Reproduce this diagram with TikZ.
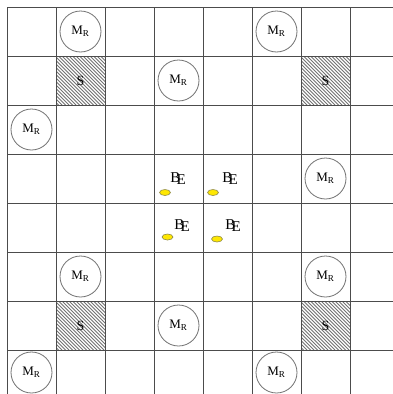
\documentclass[tikz,border=0pt]{standalone}
\usepackage{fontspec}
\setmainfont{Liberation Serif}
\usetikzlibrary{shapes.geometric}
\begin{document}
\begin{tikzpicture}[x=1pt,y=-1pt,
  gridline/.style={draw=black!70, line width=0.9pt},
  hatchline/.style={draw=black!55, line width=1pt},
  robot/.style={circle, draw=black!55, line width=0.8pt, minimum size=41pt, inner sep=0pt, font=\fontsize{13}{13}\selectfont},
  shelf/.style={rectangle, minimum size=49pt, inner sep=0pt, font=\fontsize{14}{14}\selectfont},
  btxt/.style={inner sep=0pt, font=\fontsize{15}{15}\selectfont},
  ydot/.style={ellipse, fill=yellow!90!orange, draw=black!50!yellow, line width=0.6pt, minimum width=11pt, minimum height=6pt, inner sep=0pt}]
\useasboundingbox (0,0) rectangle (393,394);
\fill[white] (0,0) rectangle (393,394);
% shelves (hatched "\" lines)
\foreach \cx/\cy in {56/56, 301/56, 56/301, 301/301} {
  \begin{scope}
    \clip (\cx,\cy) rectangle ++(49,49);
    \foreach \t in {-50,-46.5,...,50}
      \draw[hatchline] ({\cx+\t},\cy) -- ++(49,49);
  \end{scope}
}
\node[shelf] (s1) at (80.5,80.5) {S};
\node[shelf] (s2) at (325.5,80.5) {S};
\node[shelf] (s3) at (80.5,325.5) {S};
\node[shelf] (s4) at (325.5,325.5) {S};
% grid
\foreach \i in {0,...,7} {
  \draw[gridline] ({7+49*\i},7) -- ({7+49*\i},394);
  \draw[gridline] (7,{7+49*\i}) -- (393,{7+49*\i});
}
% robots
\node[robot] (m1) at (80.5,31.5) {M\textsubscript{R}};
\node[robot] (m2) at (276.5,31.5) {M\textsubscript{R}};
\node[robot] (m3) at (178.5,80.5) {M\textsubscript{R}};
\node[robot] (m4) at (31.5,129.5) {M\textsubscript{R}};
\node[robot] (m5) at (325.5,178.5) {M\textsubscript{R}};
\node[robot] (m6) at (80.5,276.5) {M\textsubscript{R}};
\node[robot] (m7) at (325.5,276.5) {M\textsubscript{R}};
\node[robot] (m8) at (178.5,325.5) {M\textsubscript{R}};
\node[robot] (m9) at (31.5,372.5) {M\textsubscript{R}};
\node[robot] (m10) at (276.5,372.5) {M\textsubscript{R}};
% B_E
\newcommand{\mybe}{B\kern-0.25em\raisebox{-0.3ex}{E}}
\node[btxt] (b1) at (178,179) {\mybe};
\node[btxt] (b2) at (230,179) {\mybe};
\node[btxt] (b3) at (182,226) {\mybe};
\node[btxt] (b4) at (233,226) {\mybe};
\node[ydot] (e1) at (165,192.5) {};
\node[ydot] (e2) at (213,192.5) {};
\node[ydot] (e3) at (167.5,237) {};
\node[ydot] (e4) at (217,239) {};
\end{tikzpicture}
\end{document}
